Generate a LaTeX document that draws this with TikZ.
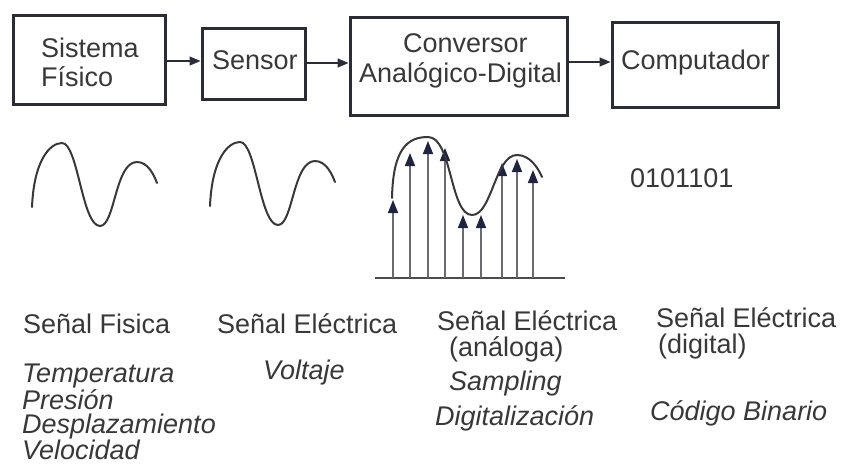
\documentclass[tikz,border=0pt]{standalone}
\usepackage{fontspec}
\setmainfont{Liberation Sans}
\usetikzlibrary{arrows.meta}
\definecolor{ink}{HTML}{2A2C38}
\definecolor{txt}{HTML}{383838}
\definecolor{stem}{HTML}{6A6A70}
\definecolor{head}{HTML}{1E2440}
\tikzset{
  box/.style={draw=ink, line width=3pt, minimum width=#1, inner sep=0pt},
  lbl/.style={anchor=base west, inner sep=0pt, text=txt, font=\fontsize{27}{30}\selectfont},
  ilbl/.style={lbl, font=\fontsize{27}{30}\selectfont\itshape},
  conn/.style={draw=ink, line width=1.5pt, -{Triangle[length=11pt,width=9pt]}},
  wavey/.style={draw=txt, line width=2pt, line cap=round},
  samp/.style={draw=stem, line width=1.6pt, -{Triangle[length=13pt,width=10pt,color=head]}},
  wave/.pic={\draw[wavey] (0,0) .. controls (2,-47) and (18,-64) .. (30,-64)
     .. controls (46,-64) and (50,19) .. (68,19)
     .. controls (83,19) and (83,-45) .. (105,-45)
     .. controls (116,-45) and (122,-32) .. (125,-24);}
}
\begin{document}
\begin{tikzpicture}[x=1pt,y=-1pt]
\useasboundingbox (0,0) rectangle (842,466);
% boxes
\node[box=152pt, minimum height=89pt] (b1) at (89,59.5) {};
\node[box=103pt, minimum height=71pt] (b2) at (253.5,63.5) {};
\node[box=217pt, minimum height=98pt] (b3) at (458.5,66) {};
\node[box=166pt, minimum height=85pt] (b4) at (695,64.5) {};
% box texts
\node[lbl] (t1a) at (41,57) {Sistema};
\node[lbl] (t1b) at (41,86) {Físico};
\node[lbl] (t2) at (212,69) {Sensor};
\node[lbl] (t3a) at (403,52) {Conversor};
\node[lbl] (t3b) at (359,82) {Analógico-Digital};
\node[lbl] (t4) at (621,69) {Computador};
% connectors
\draw[conn] (b1.east |- 0,61) -- (b2.west |- 0,61);
\draw[conn] (b2.east |- 0,63) -- (b3.west |- 0,63);
\draw[conn] (b3.east |- 0,62) -- (b4.west |- 0,62);
% waves
\pic at (32,207) {wave};
\pic at (210,206) {wave};
% sampled signal
\draw[line width=2pt, draw=txt!90] (375,278) -- (565,278);
\foreach \x/\t in {393/200,410/153,428/141,445/148,463/215,481/215,502/163,517/159,533/170}
  \draw[samp] (\x,278) -- (\x,\t);
\draw[wavey] (392,198) .. controls (393,148) and (408,137) .. (428,137)
  .. controls (452,137) and (450,215) .. (472,215)
  .. controls (492,215) and (495,155) .. (517,155)
  .. controls (530,155) and (538,168) .. (542,177);
\node[lbl] (bin) at (630,187) {0101101};
% bottom labels
\node[lbl] (sf) at (23,333) {Señal Fisica};
\node[lbl] (se1) at (217,333) {Señal Eléctrica};
\node[lbl] (se2) at (437,330) {Señal Eléctrica};
\node[lbl] (an) at (449,356) {(análoga)};
\node[lbl] (se3) at (656,327) {Señal Eléctrica};
\node[lbl] (dg) at (658,353) {(digital)};
\node[ilbl, anchor=north west, align=left, font=\fontsize{27}{24}\selectfont\itshape] (mag) at (22,364)
  {Temperatura\\Presión\\Desplazamiento\\Velocidad};
\node[ilbl] (vol) at (263,379) {Voltaje};
\node[ilbl] (sam) at (449,390) {Sampling};
\node[ilbl] (dig) at (435,425) {Digitalización};
\node[ilbl] (cod) at (650,420) {Código Binario};
\end{tikzpicture}
\end{document}
